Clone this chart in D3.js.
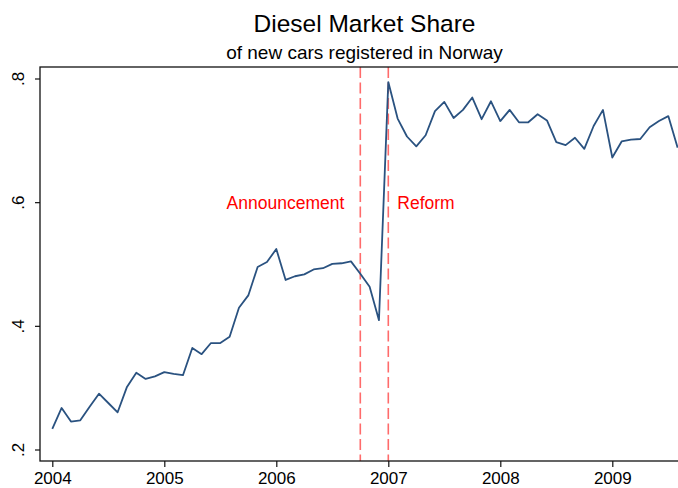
<!DOCTYPE html>
<html>
<head>
<meta charset="utf-8">
<script src="https://cdn.jsdelivr.net/npm/d3@7"></script>
<style>
  body { margin: 0; background: #fff; }
  text { font-family: "Liberation Sans", Arial, sans-serif; }
</style>
</head>
<body>
<svg width="678" height="488"></svg>
<script>
// monthly diesel share, Jan 2004 .. Aug 2009
const startYear = 2004;
const share = [
  0.234, 0.268, 0.246, 0.248, 0.270, 0.291, 0.276, 0.261, 0.302, 0.325, 0.315, 0.319,
  0.326, 0.323, 0.321, 0.365, 0.355, 0.373, 0.373, 0.383, 0.430, 0.450, 0.496, 0.504,
  0.525, 0.475, 0.481, 0.484, 0.492, 0.494, 0.501, 0.502, 0.505, 0.485, 0.464, 0.410,
  0.795, 0.736, 0.707, 0.691, 0.709, 0.748, 0.763, 0.737, 0.750, 0.770, 0.735, 0.764,
  0.732, 0.750, 0.730, 0.730, 0.743, 0.733, 0.698, 0.693, 0.705, 0.687, 0.724, 0.750,
  0.673, 0.699, 0.702, 0.703, 0.722, 0.732, 0.740, 0.689
];
const yearTicks = [2004, 2005, 2006, 2007, 2008, 2009];
const shareTicks = [0.2, 0.4, 0.6, 0.8];
const eventNames = ['Announcement', 'Reform'];
const eventDates = [2006 + 9 / 12, 2007];

const svg = d3.select('svg');
const frame = { left: 40, right: 689, top: 67, bottom: 461 };

const x = d3.scaleLinear().domain([2004, 2009]).range([52.3, 612.3]);
const y = d3.scaleLinear().domain([0.2, 0.8]).range([450, 79]);

const data = share.map((v, i) => ({ t: startYear + i / 12, v: v }));

// titles
const cx = (frame.left + frame.right) / 2;
svg.append('text')
  .attr('x', cx).attr('y', 32)
  .attr('text-anchor', 'middle')
  .style('font-size', '24.5px')
  .text('Diesel Market Share');
svg.append('text')
  .attr('x', cx).attr('y', 59)
  .attr('text-anchor', 'middle')
  .style('font-size', '19px')
  .text('of new cars registered in Norway');

// event lines
eventDates.forEach((d, i) => {
  svg.append('line')
    .attr('x1', x(d)).attr('x2', x(d))
    .attr('y1', frame.top).attr('y2', frame.bottom)
    .attr('stroke', '#ff6b6b')
    .attr('stroke-width', 1.6)
    .attr('stroke-dasharray', '11,4.5');
  svg.append('text')
    .attr('x', i === 0 ? x(d) - 16 : x(d) + 9)
    .attr('y', y(0.6))
    .attr('dy', '0.35em')
    .attr('text-anchor', i === 0 ? 'end' : 'start')
    .attr('fill', '#ff0000')
    .style('font-size', '17.5px')
    .text(eventNames[i]);
});

// series
const line = d3.line().x(d => x(d.t)).y(d => y(d.v));
svg.append('path')
  .datum(data)
  .attr('fill', 'none')
  .attr('stroke', '#2a5280')
  .attr('stroke-width', 1.8)
  .attr('stroke-linejoin', 'round')
  .attr('d', line);

// frame
svg.append('rect')
  .attr('x', frame.left).attr('y', frame.top)
  .attr('width', frame.right - frame.left)
  .attr('height', frame.bottom - frame.top)
  .attr('fill', 'none')
  .attr('stroke', '#111')
  .attr('stroke-width', 1.3);

// x axis
const xAxis = svg.append('g')
  .attr('transform', `translate(0,${frame.bottom})`)
  .call(d3.axisBottom(x).tickValues(yearTicks).tickFormat(d3.format('d')).tickSize(6).tickPadding(5));
xAxis.select('.domain').remove();
xAxis.selectAll('line').attr('stroke', '#111').attr('stroke-width', 1.2);
xAxis.selectAll('text')
  .attr('fill', '#000')
  .style('font-size', '17px')
  .style('font-family', '"Liberation Sans", Arial, sans-serif');

// y axis
const yAxis = svg.append('g')
  .attr('transform', `translate(${frame.left},0)`)
  .call(d3.axisLeft(y).tickValues(shareTicks).tickSize(5).tickFormat(d => String(d).replace(/^0/, '')));
yAxis.select('.domain').remove();
yAxis.selectAll('line').attr('stroke', '#111').attr('stroke-width', 1.2);
yAxis.selectAll('text')
  .attr('x', null).attr('dy', null)
  .attr('text-anchor', 'middle')
  .attr('transform', d => `translate(-16,${y(d)}) rotate(-90)`)
  .attr('y', 0)
  .attr('fill', '#000')
  .style('font-size', '17px')
  .style('font-family', '"Liberation Sans", Arial, sans-serif');
yAxis.selectAll('.tick').attr('transform', 'translate(0,0)');
yAxis.selectAll('.tick line').attr('y1', d => y(d)).attr('y2', d => y(d));
</script>
</body>
</html>
